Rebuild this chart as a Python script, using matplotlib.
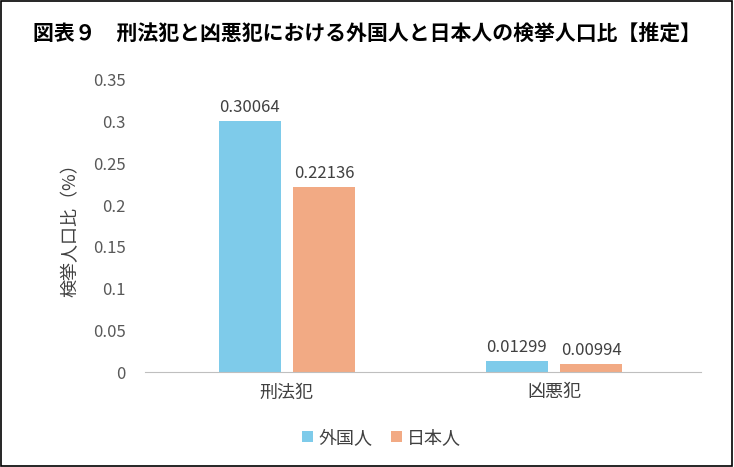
import matplotlib
matplotlib.use("Agg")
import matplotlib.pyplot as plt
import numpy as np

plt.rcParams['font.family'] = ['Noto Sans CJK JP', 'DejaVu Sans']

categories = ["刑法犯", "凶悪犯"]
series_names = ["外国人", "日本人"]
foreign = [0.30064, 0.01299]
japanese = [0.22136, 0.00994]
labels_foreign = ["0.30064", "0.01299"]
labels_japanese = ["0.22136", "0.00994"]
yticks = [0, 0.05, 0.1, 0.15, 0.2, 0.25, 0.3, 0.35]
ytick_labels = ["0", "0.05", "0.1", "0.15", "0.2", "0.25", "0.3", "0.35"]

fig = plt.figure(figsize=(7.34, 4.67), dpi=100)
ax = fig.add_axes([0.198, 0.203, 0.757, 0.626])

x = np.arange(len(categories))
w = 0.232
off = 0.14
colors = ["#7ECBEA", "#F2AA84"]
b1 = ax.bar(x - off, foreign, w, color=colors[0], label=series_names[0])
b2 = ax.bar(x + off, japanese, w, color=colors[1], label=series_names[1])
for bars, labs in [(b1, labels_foreign), (b2, labels_japanese)]:
    for b, lab in zip(bars, labs):
        ax.text(b.get_x() + b.get_width() / 2, b.get_height() + 0.006, lab,
                ha="center", va="bottom", fontsize=12, color="#404040")

ax.set_ylim(0, 0.35)
ax.set_xlim(-0.53, 1.55)
ax.set_yticks(yticks)
ax.set_yticklabels(ytick_labels, fontsize=12, color="#595959")
ax.set_xticks(x)
ax.set_xticklabels(categories, fontsize=13, color="#404040")
ax.tick_params(length=0)
ax.tick_params(axis="y", pad=14)
ax.tick_params(axis="x", pad=8)
for s in ["top", "right", "left"]:
    ax.spines[s].set_visible(False)
ax.spines["bottom"].set_color("#BFBFBF")
ax.set_ylabel("検挙人口比（%）", fontsize=13, color="#404040", labelpad=10)

fig.text(0.5, 0.93, "図表９　刑法犯と凶悪犯における外国人と日本人の検挙人口比【推定】",
         ha="center", va="center", fontsize=15, fontweight="bold")
fig.legend(loc="center", bbox_to_anchor=(0.52, 0.062), ncol=2, frameon=False,
           fontsize=13, handlelength=0.6, handleheight=0.6, columnspacing=1.0,
           handletextpad=0.3, labelcolor="#404040")
fig.patches.append(plt.Rectangle((0.002, 0.003), 0.995, 0.994, transform=fig.transFigure,
                                 fill=False, edgecolor="black", linewidth=1.2))
fig.savefig("out.png", dpi=100)
